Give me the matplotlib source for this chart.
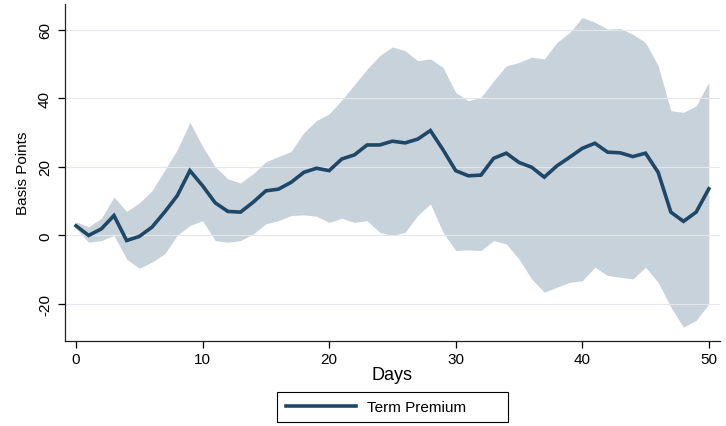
import matplotlib
matplotlib.use("Agg")
import matplotlib.pyplot as plt
from matplotlib.lines import Line2D
from matplotlib.patches import Rectangle

days = list(range(51))
term_premium = [2.8, 0.0, 1.9, 5.8, -1.5, -0.3, 2.4, 6.8, 11.6, 18.9,
                14.5, 9.5, 7.0, 6.8, 9.7, 13.0, 13.5, 15.5, 18.4, 19.6,
                18.9, 22.3, 23.5, 26.4, 26.4, 27.5, 27.0, 28.1, 30.6, 25.0,
                18.9, 17.4, 17.6, 22.5, 24.0, 21.3, 19.9, 17.0, 20.3, 22.8,
                25.4, 26.9, 24.3, 24.1, 23.0, 24.0, 18.4, 6.8, 4.1, 6.8,
                13.6]
upper = [4.0, 2.5, 5.0, 11.2, 7.0, 9.5, 13.0, 19.0, 25.0, 33.0,
         26.0, 20.0, 16.5, 15.3, 18.0, 21.5, 23.0, 24.5, 30.0, 33.5,
         35.5, 39.5, 44.0, 48.5, 52.5, 55.0, 53.9, 51.0, 51.5, 49.0,
         41.7, 39.3, 40.3, 45.1, 49.5, 50.5, 52.0, 51.5, 56.3, 59.2,
         63.6, 62.2, 60.2, 60.4, 58.7, 56.3, 49.5, 36.4, 35.9, 37.8,
         44.7]
lower = [2.0, -2.0, -1.5, 0.0, -6.9, -9.6, -7.8, -5.4, 0.0, 2.9,
         4.3, -1.5, -2.0, -1.5, 0.4, 3.4, 4.3, 5.8, 6.0, 5.6,
         3.8, 5.0, 3.8, 4.3, 0.9, 0.0, 0.9, 5.8, 9.2, 0.9,
         -4.4, -4.2, -4.4, -1.5, -2.5, -6.9, -12.7, -16.6, -15.1, -13.7,
         -13.2, -9.3, -11.7, -12.2, -12.7, -9.3, -13.7, -20.9, -26.8, -24.8,
         -20.0]
x_ticks = [0, 10, 20, 30, 40, 50]
y_ticks = [-20, 0, 20, 40, 60]

plt.rcParams['font.family'] = ['Liberation Sans', 'DejaVu Sans']

line_color = '#1f4868'
band_color = '#c8d2db'

W, H = 726, 427
fig = plt.figure(figsize=(W / 100, H / 100), dpi=100)
ax = fig.add_axes([0.089, 0.20, 0.903, 0.788])

ax.fill_between(days, lower, upper, color=band_color, linewidth=0, zorder=1)
for yv in y_ticks:
    ax.axhline(yv, color='#e4e8ec', linewidth=0.8, zorder=2)
ax.plot(days, term_premium, color=line_color, linewidth=2.6, zorder=3,
        solid_joinstyle='miter')

ax.set_xlim(-0.9, 50.9)
ax.set_ylim(-30.7, 67.5)
ax.set_xticks(x_ticks)
ax.set_yticks(y_ticks)
ax.set_yticklabels([str(v) for v in y_ticks], rotation=90, va='center')
ax.tick_params(axis='both', direction='out', length=5, width=0.9, labelsize=11, colors='black')
ax.tick_params(axis='x', pad=3)
ax.tick_params(axis='y', pad=4)
for s in ['top', 'right']:
    ax.spines[s].set_visible(False)
for s in ['left', 'bottom']:
    ax.spines[s].set_linewidth(0.9)
    ax.spines[s].set_color('#222222')

ax.set_xlabel('Days', fontsize=13, labelpad=0)
ax.set_ylabel('Basis Points', fontsize=11, labelpad=6)

# legend box (Stata-style, wider on the right)
fig.patches.append(Rectangle((277 / W, 1 - 422.7 / H), 231 / W, 29.7 / H,
                             transform=fig.transFigure, fill=False,
                             edgecolor='black', linewidth=0.8))
handle = Line2D([], [], color=line_color, linewidth=2.6)
fs = 11
leg = fig.legend([handle], ['Term Premium'], loc='center left',
                 bbox_to_anchor=(286 / W, 1 - 408 / H), frameon=False,
                 fontsize=fs, handlelength=70 / (fs * 100 / 72),
                 borderpad=0, handletextpad=11 / (fs * 100 / 72), borderaxespad=0)

fig.savefig('out.png', dpi=100, facecolor='white')
